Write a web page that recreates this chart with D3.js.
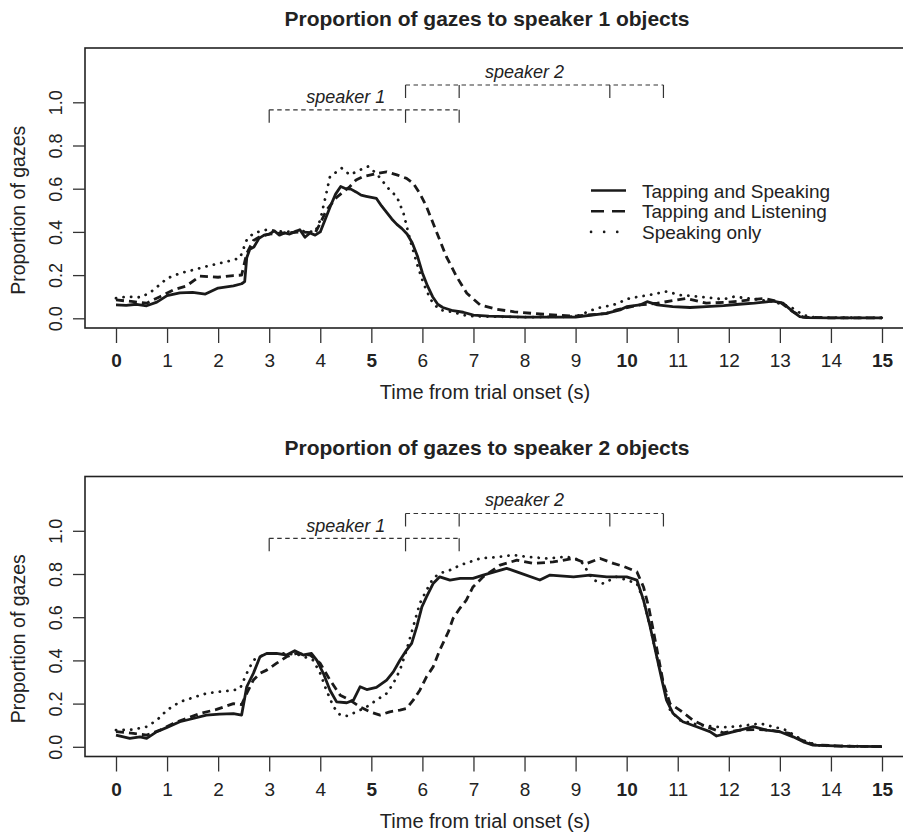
<!DOCTYPE html>
<html>
<head>
<meta charset="utf-8">
<script src="https://cdn.jsdelivr.net/npm/d3@7"></script>
<style>
  body { margin: 0; background: #fff; }
  text { font-family: "Liberation Sans", Arial, Helvetica, sans-serif; fill: #222; }
</style>
</head>
<body>
<div id="chart"></div>
<script>
// ---- data: [time (s), proportion] ----
// speaker 1 objects
const topTapSpeak = [[0,0.062],[0.2,0.06],[0.4,0.065],[0.6,0.058],[0.8,0.075],[1.0,0.105],[1.25,0.118],[1.5,0.12],[1.75,0.112],[2.0,0.14],[2.3,0.15],[2.46,0.16],[2.52,0.17],[2.56,0.28],[2.62,0.32],[2.7,0.33],[2.8,0.37],[2.9,0.385],[3.0,0.39],[3.1,0.405],[3.2,0.385],[3.3,0.395],[3.4,0.39],[3.5,0.4],[3.6,0.41],[3.7,0.375],[3.8,0.395],[3.9,0.385],[4.0,0.4],[4.1,0.46],[4.2,0.52],[4.3,0.575],[4.4,0.61],[4.5,0.6],[4.6,0.598],[4.7,0.585],[4.8,0.57],[4.9,0.565],[5.0,0.56],[5.1,0.555],[5.2,0.52],[5.3,0.49],[5.4,0.46],[5.5,0.435],[5.6,0.415],[5.7,0.39],[5.8,0.35],[5.9,0.29],[6.0,0.21],[6.1,0.15],[6.2,0.1],[6.3,0.065],[6.4,0.05],[6.6,0.035],[6.8,0.028],[7.0,0.015],[7.3,0.01],[7.65,0.008],[8.0,0.005],[8.5,0.005],[9.0,0.006],[9.6,0.023],[9.87,0.039],[10.0,0.054],[10.26,0.062],[10.4,0.077],[10.6,0.062],[10.9,0.054],[11.24,0.05],[11.56,0.054],[11.9,0.059],[12.2,0.065],[12.5,0.07],[12.87,0.08],[13.06,0.07],[13.26,0.03],[13.39,0.008],[13.52,0.003],[14.0,0.002],[15.0,0.002]];
const topTapListen = [[0,0.085],[0.34,0.077],[0.6,0.07],[0.86,0.1],[1.12,0.131],[1.38,0.15],[1.64,0.195],[2.0,0.19],[2.3,0.198],[2.46,0.2],[2.56,0.3],[2.69,0.36],[2.82,0.378],[3.0,0.39],[3.3,0.395],[3.6,0.4],[3.9,0.395],[4.0,0.44],[4.12,0.5],[4.32,0.56],[4.58,0.61],[4.7,0.64],[4.84,0.656],[5.1,0.67],[5.3,0.678],[5.5,0.664],[5.69,0.648],[5.82,0.625],[5.95,0.578],[6.08,0.517],[6.21,0.44],[6.34,0.362],[6.47,0.285],[6.67,0.193],[6.87,0.116],[7.13,0.062],[7.45,0.042],[7.8,0.03],[8.3,0.02],[8.96,0.01],[9.6,0.022],[9.8,0.039],[10.26,0.062],[10.6,0.07],[11.17,0.092],[11.56,0.07],[12.0,0.075],[12.7,0.092],[13.0,0.075],[13.26,0.03],[13.46,0.005],[14.0,0.002],[15.0,0.002]];
const topSpeakOnly = [[0,0.093],[0.2,0.1],[0.5,0.097],[0.73,0.13],[1.0,0.185],[1.25,0.208],[1.51,0.224],[1.77,0.24],[2.03,0.255],[2.3,0.27],[2.43,0.28],[2.56,0.363],[2.69,0.394],[2.95,0.41],[3.3,0.4],[3.6,0.405],[3.9,0.4],[4.0,0.455],[4.12,0.58],[4.19,0.656],[4.42,0.695],[4.58,0.664],[4.78,0.687],[4.94,0.703],[5.1,0.67],[5.36,0.594],[5.5,0.563],[5.63,0.486],[5.76,0.362],[5.89,0.255],[6.02,0.162],[6.15,0.093],[6.21,0.07],[6.34,0.039],[6.54,0.031],[6.9,0.01],[8.0,0.005],[9.0,0.008],[9.41,0.046],[9.74,0.062],[10.06,0.093],[10.45,0.108],[10.78,0.124],[11.04,0.108],[11.43,0.1],[11.9,0.088],[12.1,0.1],[12.48,0.09],[12.87,0.077],[13.2,0.054],[13.46,0.015],[13.7,0.003],[15.0,0.002]];

// speaker 2 objects
const botTapSpeak = [[0,0.054],[0.27,0.039],[0.47,0.046],[0.6,0.039],[0.8,0.07],[1.0,0.09],[1.25,0.116],[1.51,0.131],[1.77,0.147],[2.03,0.151],[2.3,0.154],[2.46,0.147],[2.56,0.278],[2.69,0.34],[2.82,0.417],[2.95,0.432],[3.14,0.432],[3.34,0.425],[3.5,0.445],[3.67,0.425],[3.83,0.432],[3.93,0.401],[4.06,0.34],[4.19,0.262],[4.32,0.208],[4.52,0.204],[4.65,0.216],[4.78,0.278],[4.91,0.265],[5.1,0.275],[5.3,0.309],[5.43,0.347],[5.56,0.401],[5.69,0.448],[5.79,0.479],[5.89,0.556],[5.99,0.648],[6.08,0.694],[6.21,0.756],[6.34,0.787],[6.54,0.772],[6.74,0.78],[6.99,0.78],[7.19,0.795],[7.65,0.826],[7.85,0.81],[8.3,0.772],[8.5,0.795],[8.96,0.787],[9.28,0.795],[9.61,0.787],[10.0,0.787],[10.2,0.772],[10.33,0.679],[10.46,0.556],[10.59,0.417],[10.69,0.309],[10.78,0.216],[10.91,0.154],[11.1,0.116],[11.37,0.093],[11.63,0.07],[11.76,0.05],[11.96,0.062],[12.22,0.077],[12.48,0.093],[12.74,0.077],[13.0,0.07],[13.26,0.046],[13.46,0.023],[13.65,0.008],[14.2,0.003],[15.0,0.001]];
const botTapListen = [[0,0.07],[0.34,0.062],[0.6,0.054],[0.86,0.077],[1.12,0.108],[1.38,0.131],[1.64,0.154],[1.97,0.173],[2.3,0.2],[2.46,0.195],[2.56,0.247],[2.69,0.309],[2.82,0.34],[2.95,0.355],[3.14,0.386],[3.34,0.417],[3.53,0.432],[3.8,0.425],[4.0,0.386],[4.19,0.309],[4.39,0.239],[4.58,0.216],[4.78,0.185],[4.97,0.162],[5.17,0.147],[5.36,0.162],[5.56,0.17],[5.69,0.177],[5.82,0.216],[5.95,0.262],[6.08,0.324],[6.21,0.37],[6.34,0.448],[6.51,0.533],[6.6,0.594],[6.73,0.64],[6.86,0.679],[6.99,0.74],[7.19,0.787],[7.52,0.841],[7.85,0.864],[8.17,0.849],[8.56,0.856],[8.96,0.872],[9.22,0.849],[9.48,0.872],[9.74,0.849],[9.93,0.836],[10.2,0.81],[10.33,0.74],[10.43,0.648],[10.52,0.54],[10.62,0.417],[10.72,0.293],[10.85,0.2],[11.04,0.17],[11.3,0.123],[11.56,0.093],[11.89,0.065],[12.22,0.077],[12.61,0.08],[12.87,0.075],[13.19,0.062],[13.39,0.035],[13.65,0.01],[14.2,0.003],[15.0,0.001]];
const botSpeakOnly = [[0,0.077],[0.34,0.08],[0.6,0.093],[0.8,0.123],[1.0,0.17],[1.25,0.208],[1.51,0.228],[1.77,0.247],[2.03,0.255],[2.3,0.262],[2.43,0.27],[2.56,0.34],[2.69,0.401],[2.82,0.417],[2.95,0.432],[3.28,0.432],[3.6,0.425],[3.86,0.401],[4.0,0.34],[4.12,0.262],[4.26,0.185],[4.39,0.147],[4.52,0.143],[4.71,0.162],[4.91,0.185],[5.1,0.216],[5.3,0.247],[5.43,0.293],[5.56,0.355],[5.69,0.448],[5.82,0.556],[5.95,0.664],[6.08,0.725],[6.21,0.78],[6.34,0.803],[6.54,0.818],[6.74,0.841],[7.13,0.872],[7.52,0.88],[7.78,0.888],[8.04,0.88],[8.43,0.872],[8.82,0.88],[9.09,0.865],[9.35,0.772],[9.54,0.756],[9.8,0.787],[10.0,0.772],[10.2,0.756],[10.33,0.679],[10.46,0.556],[10.59,0.417],[10.72,0.293],[10.85,0.17],[11.04,0.123],[11.43,0.1],[11.89,0.09],[12.22,0.096],[12.61,0.108],[12.87,0.093],[13.13,0.077],[13.33,0.046],[13.52,0.023],[13.8,0.005],[15.0,0.001]];

// axis ticks and labels
const xTicks = d3.range(0, 16);
const yTicks = [0, 0.2, 0.4, 0.6, 0.8, 1.0];
const conditions = ["Tapping and Speaking", "Tapping and Listening", "Speaking only"];
const panelTitles = ["Proportion of gazes to speaker 1 objects", "Proportion of gazes to speaker 2 objects"];

// speaking windows (s) shown as brackets
const speaker1Marks = [3, 5.67, 6.72];
const speaker2Marks = [5.67, 6.72, 9.67, 10.72];

const width = 903, height = 833;
const panelShift = 428.5;

const svg = d3.select("#chart").append("svg")
    .attr("width", width)
    .attr("height", height);

svg.append("rect").attr("width", width).attr("height", height).attr("fill", "#fff");

const x = d3.scaleLinear().domain([0, 15]).range([116, 882]);
const y = d3.scaleLinear().domain([0, 1]).range([318.3, 102.3]);

const line = d3.line().x(d => x(d[0])).y(d => y(d[1]));

// line styles for the three conditions
const styles = [
  { dash: null, cap: "butt", legendDash: null },
  { dash: "8,5", cap: "butt", legendDash: "13,8" },
  { dash: "0.1,7.5", cap: "round", legendDash: "0.1,13" }
];

function bracket(g, marks, level, drop) {
  g.append("line")
      .attr("x1", x(marks[0])).attr("x2", x(marks[marks.length - 1]))
      .attr("y1", y(level)).attr("y2", y(level))
      .attr("stroke", "#333").attr("stroke-width", 1.2)
      .attr("stroke-dasharray", "4.5,3.5");
  g.selectAll(null)
    .data(marks)
    .enter().append("line")
      .attr("x1", d => x(d)).attr("x2", d => x(d))
      .attr("y1", y(level)).attr("y2", y(drop))
      .attr("stroke", "#333").attr("stroke-width", 1.2);
}

function drawPanel(offset, titleText, series, showLegend) {
  const g = svg.append("g").attr("transform", "translate(0," + offset + ")");

  // Title
  g.append("text")
      .attr("x", 487).attr("y", 26)
      .attr("text-anchor", "middle")
      .style("font-size", "21px")
      .style("font-weight", "bold")
      .text(titleText);

  // Box
  g.append("rect")
      .attr("x", 85).attr("y", 48)
      .attr("width", 840).attr("height", 280)
      .attr("fill", "none").attr("stroke", "#222").attr("stroke-width", 1.6);

  // X axis
  const ax = g.append("g")
      .attr("transform", "translate(0,328)")
      .call(d3.axisBottom(x).tickValues(xTicks).tickSize(15).tickSizeOuter(0));
  ax.select(".domain").remove();
  ax.attr("font-family", null).attr("font-size", null);
  ax.selectAll("line").attr("stroke", "#333").attr("stroke-width", 1.3);
  ax.selectAll("text")
      .attr("y", 39).attr("dy", null)
      .attr("fill", "#222")
      .style("font-size", "19px")
      .style("font-weight", d => d % 5 === 0 ? "bold" : "normal");

  g.append("text")
      .attr("x", 485).attr("y", 399)
      .attr("text-anchor", "middle")
      .style("font-size", "20px")
      .text("Time from trial onset (s)");

  // Y axis
  const ay = g.append("g")
      .attr("transform", "translate(85,0)")
      .call(d3.axisLeft(y).tickValues(yTicks).tickSize(12).tickSizeOuter(0).tickFormat(d3.format(".1f")));
  ay.select(".domain").remove();
  ay.attr("font-family", null).attr("font-size", null);
  ay.selectAll("line").attr("stroke", "#333").attr("stroke-width", 1.3);
  ay.selectAll("text")
      .attr("x", 0).attr("dy", null)
      .attr("text-anchor", "middle")
      .attr("transform", "translate(-23,0) rotate(-90)")
      .attr("fill", "#222")
      .style("font-size", "18px");

  g.append("text")
      .attr("transform", "translate(25," + y(0.5) + ") rotate(-90)")
      .attr("text-anchor", "middle")
      .style("font-size", "19.5px")
      .text("Proportion of gazes");

  // Speaking windows
  bracket(g, speaker1Marks, 0.965, 0.905);
  bracket(g, speaker2Marks, 1.08, 1.02);
  g.append("text")
      .attr("x", x(4.5)).attr("y", y(0.995))
      .attr("text-anchor", "middle")
      .style("font-size", "18px").style("font-style", "italic")
      .text("speaker 1");
  g.append("text")
      .attr("x", x(8.0)).attr("y", y(1.114))
      .attr("text-anchor", "middle")
      .style("font-size", "18px").style("font-style", "italic")
      .text("speaker 2");

  // Series
  series.forEach(function(s, i) {
    g.append("path")
        .datum(s)
        .attr("d", line)
        .attr("fill", "none")
        .attr("stroke", "#1a1a1a")
        .attr("stroke-width", 2.8)
        .attr("stroke-linejoin", "round")
        .attr("stroke-linecap", styles[i].cap)
        .attr("stroke-dasharray", styles[i].dash);
  });

  // Legend
  if (showLegend) {
    const lg = g.append("g");
    conditions.forEach(function(c, i) {
      const ly = 190.5 + i * 20.7;
      lg.append("line")
          .attr("x1", 591).attr("x2", 626)
          .attr("y1", ly).attr("y2", ly)
          .attr("stroke", "#1a1a1a")
          .attr("stroke-width", 2.6)
          .attr("stroke-linecap", styles[i].cap)
          .attr("stroke-dasharray", styles[i].legendDash);
      lg.append("text")
          .attr("x", 642).attr("y", ly + 7)
          .style("font-size", "19px")
          .text(c);
    });
  }
}

drawPanel(0, panelTitles[0], [topTapSpeak, topTapListen, topSpeakOnly], true);
drawPanel(panelShift, panelTitles[1], [botTapSpeak, botTapListen, botSpeakOnly], false);
</script>
</body>
</html>
